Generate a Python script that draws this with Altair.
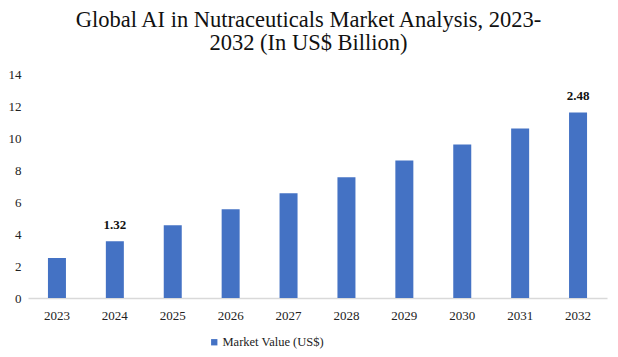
import altair as alt
import pandas as pd

years = ["2023", "2024", "2025", "2026", "2027", "2028", "2029", "2030", "2031", "2032"]
values = [2.5, 3.55, 4.55, 5.55, 6.55, 7.55, 8.6, 9.6, 10.6, 11.6]
labels = ["", "1.32", "", "", "", "", "", "", "", "2.48"]
y_ticks = [0, 2, 4, 6, 8, 10, 12, 14]
series = "Market Value (US$)"

df = pd.DataFrame({"year": years, "value": values, "label": labels, "series": [series] * len(years)})

FONT = "Liberation Serif"

x = alt.X("year:N", sort=years, title=None,
          scale=alt.Scale(paddingInner=0, paddingOuter=0),
          axis=alt.Axis(labelAngle=0, ticks=False, domainColor="#d9d9d9", domainWidth=1.5,
                        labelFont=FONT, labelFontSize=13, labelColor="#222222", labelPadding=11))
y = alt.Y("value:Q", title=None,
          scale=alt.Scale(domain=[0, 14]),
          axis=alt.Axis(values=y_ticks, grid=False, domain=False, ticks=False,
                        labelOverlap=False, labelFont=FONT, labelFontSize=13,
                        labelColor="#222222", labelPadding=7))

bars = alt.Chart(df).mark_bar(size=18, color="#4472C4").encode(
    x=x, y=y,
    color=alt.Color("series:N", title=None,
                    scale=alt.Scale(domain=[series], range=["#4472C4"]),
                    legend=alt.Legend(orient="none", legendX=180, legendY=262, symbolType="square",
                                      symbolSize=40, labelFont=FONT, labelFontSize=12.5,
                                      labelOffset=2, labelColor="#222222", symbolStrokeWidth=0))
)

text = alt.Chart(df).mark_text(font=FONT, fontSize=13, fontWeight="bold", baseline="bottom",
                               dy=-9, color="#111111").encode(
    x=x, y=y, text="label:N"
)

chart = (bars + text).properties(
    width=579, height=224,
    autosize=alt.AutoSizeParams(type="none"),
    padding={"left": 20, "top": 66, "right": 3, "bottom": 51},
    title=alt.TitleParams(
        text=["Global AI in Nutraceuticals Market Analysis, 2023-", "2032 (In US$ Billion)"],
        font=FONT, fontSize=22.5, fontWeight="normal", color="#111111",
        anchor="middle", dx=-9, offset=14, lineHeight=23,
    ),
).configure_view(stroke=None).configure_axisY(labelOverlap=False)

chart.save("out.html", embed_options={"renderer": "svg", "actions": False})
